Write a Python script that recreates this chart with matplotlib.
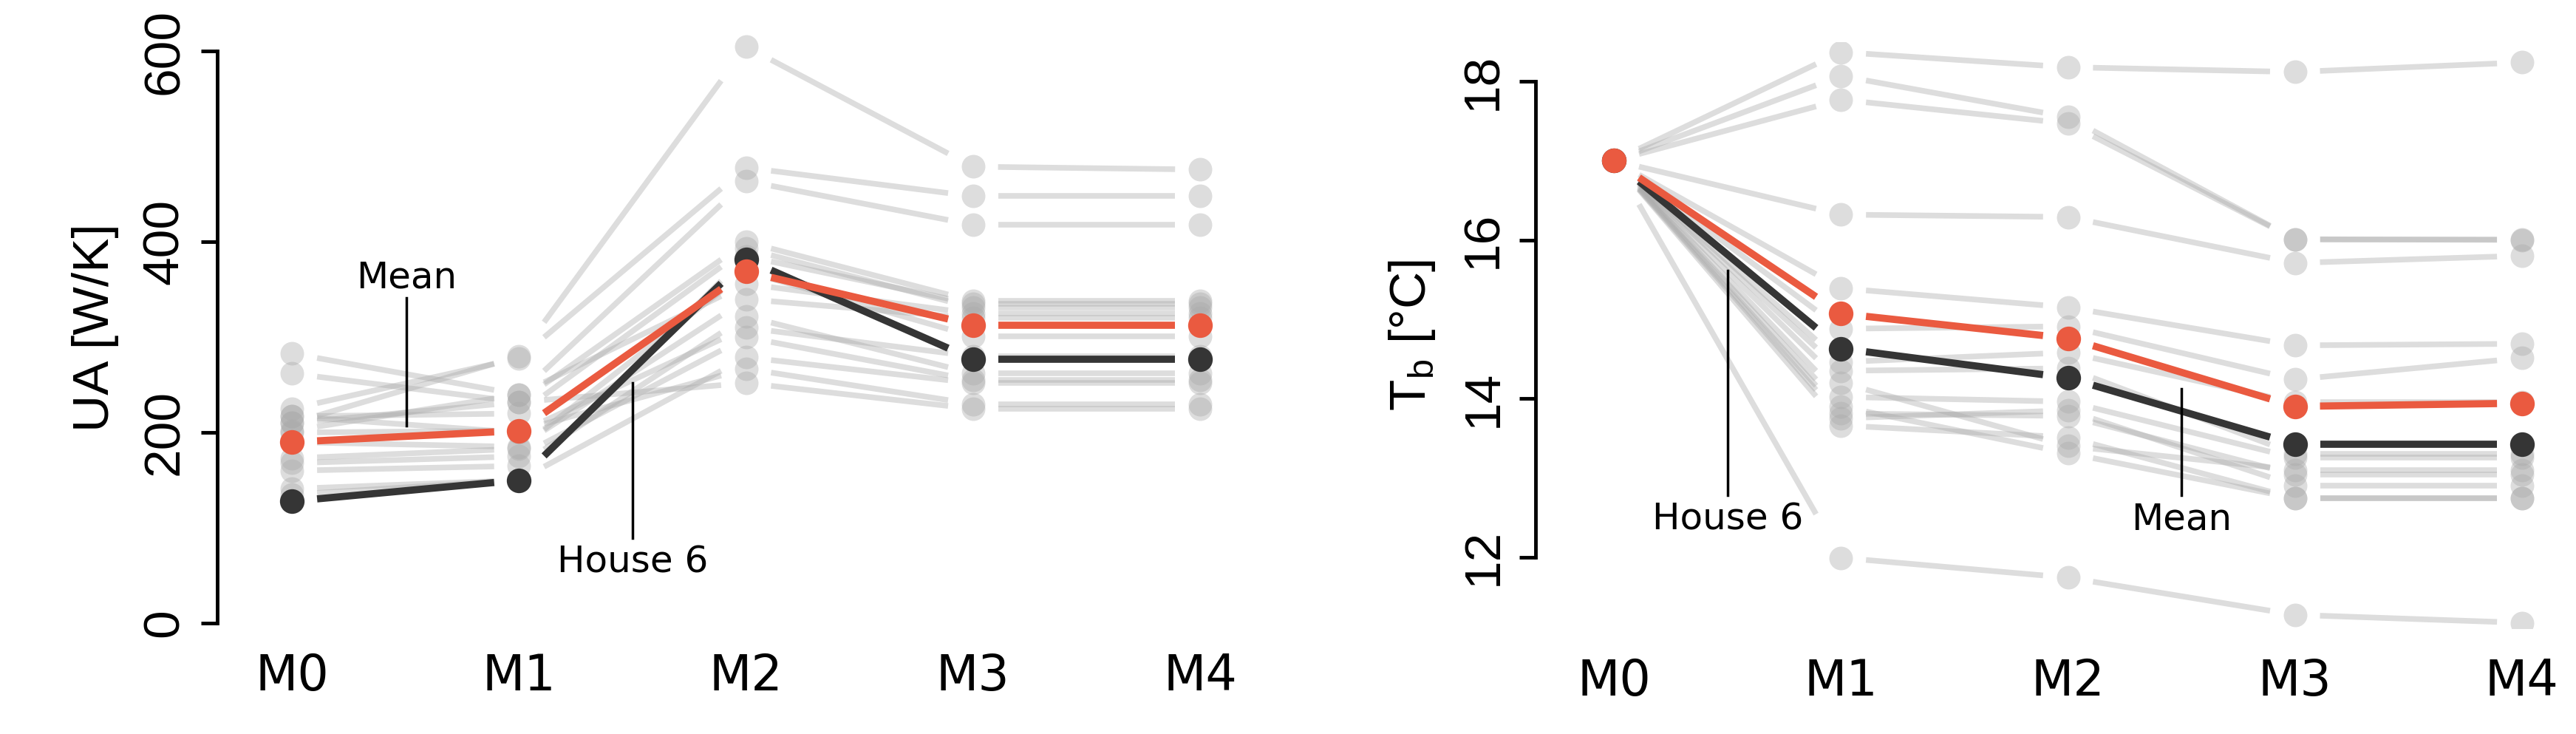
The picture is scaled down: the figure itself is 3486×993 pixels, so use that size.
import numpy as np
import matplotlib.pyplot as plt

steps = ['M0', 'M1', 'M2', 'M3', 'M4']

# UA [W/K] per house, steps M0..M4
ua_houses = [
    [210, 280, 605, 479, 476],
    [225, 278, 478, 448, 448],
    [283, 240, 464, 418, 418],
    [262, 232, 400, 338, 338],
    [217, 220, 393, 331, 331],
    [202, 240, 356, 325, 325],
    [173, 183, 369, 301, 301],
    [160, 165, 322, 262, 262],
    [141, 150, 279, 252, 252],
    [200, 202, 267, 230, 230],
    [210, 232, 252, 225, 225],
    [190, 185, 340, 320, 320],
    [135, 150, 385, 335, 335],
    [217, 200, 310, 280, 280],
    [168, 175, 300, 255, 255],
]
ua_house6 = [128, 150, 382, 277, 277]
ua_mean = [190, 202, 369, 313, 313]

# balance temperature Tb [C]
tb_houses = [
    [17.0, 18.37, 18.18, 18.12, 18.24],
    [17.0, 18.07, 17.55, 16.01, 16.01],
    [17.0, 17.77, 17.47, 16.01, 16.00],
    [17.0, 16.32, 16.29, 15.71, 15.80],
    [17.0, 15.39, 15.15, 14.67, 14.69],
    [17.0, 14.88, 14.91, 14.24, 14.51],
    [17.0, 14.46, 14.58, 13.95, 13.95],
    [17.0, 14.35, 14.38, 13.30, 13.30],
    [17.0, 14.02, 13.96, 13.25, 13.25],
    [17.0, 13.81, 13.78, 13.04, 13.04],
    [17.0, 13.66, 13.51, 12.74, 12.74],
    [17.0, 14.20, 13.40, 13.10, 13.10],
    [17.0, 13.90, 13.31, 12.74, 12.74],
    [17.0, 13.75, 13.85, 12.90, 12.90],
    [17.0, 11.99, 11.74, 11.27, 11.17],
]
tb_house6 = [17.0, 14.63, 14.26, 13.42, 13.42]
tb_mean = [17.0, 15.07, 14.76, 13.90, 13.94]

red = '#ea5a40'
dark = '#353535'
narrow = ['Liberation Sans Narrow', 'DejaVu Sans']
plt.rcParams['font.family'] = ['Liberation Sans', 'DejaVu Sans']


def series(ax, y, color, alpha, lw, ms, z, gap=0.11):
    y = np.asarray(y, float)
    x = np.arange(len(y))
    for i in range(len(y) - 1):
        x0, x1 = x[i] + gap, x[i + 1] - gap
        y0 = y[i] + (y[i + 1] - y[i]) * gap
        y1 = y[i + 1] - (y[i + 1] - y[i]) * gap
        ax.plot([x0, x1], [y0, y1], color=color, alpha=alpha, lw=lw,
                solid_capstyle='butt', zorder=z)
    ax.plot(x, y, 'o', color=color, alpha=alpha, ms=ms, mew=0, zorder=z + 1)


def panel(ax, houses, h6, mean, spine_x, ylim, yb, yticks, ylabel):
    for h in houses:
        series(ax, h, '#aaaaaa', 0.4, 5.5, 23, 1)
    series(ax, h6, dark, 1, 7, 24, 3)
    series(ax, mean, red, 1, 7, 24, 5)
    ax.set_xlim(spine_x, spine_x + 4.45)
    ax.set_ylim(*ylim)
    for s in ['top', 'right', 'bottom']:
        ax.spines[s].set_visible(False)
    ax.spines['left'].set_position(('data', spine_x))
    ax.spines['left'].set_bounds(*yb)
    ax.spines['left'].set_linewidth(3.5)
    ax.set_yticks(yticks)
    ax.set_yticklabels([str(t) for t in yticks], rotation=90, va='center',
                       fontsize=50)
    ax.tick_params(axis='y', length=16, width=3.5, pad=12)
    ax.set_xticks(range(5))
    ax.set_xticklabels(steps, fontsize=48, family=narrow)
    ax.tick_params(axis='x', length=0, pad=28)
    ax.set_ylabel(ylabel, fontsize=50, labelpad=22)


def label(ax, x, ytxt, yl0, yl1, txt):
    ax.plot([x, x], [yl0, yl1], color='black', lw=2.5, zorder=6)
    ax.text(x, ytxt, txt, ha='center', va='center', fontsize=36,
            family=narrow, zorder=6)


fig = plt.figure(figsize=(34.87, 9.93), dpi=100)
ax1 = fig.add_axes([0.0843, 0.151, 0.392, 0.805])
ax2 = fig.add_axes([0.596, 0.144, 0.392, 0.799])

panel(ax1, ua_houses, ua_house6, ua_mean, -0.33, (0, 620), (0, 600),
      [0, 200, 400, 600], 'UA [W/K]')
label(ax1, 0.505, 363, 341, 207, 'Mean')
label(ax1, 1.5, 64, 89, 252, 'House 6')

panel(ax2, tb_houses, tb_house6, tb_mean, -0.345, (11.1, 18.5), (12, 18),
      [12, 14, 16, 18], 'T$_\\mathregular{b}$ [°C]')
label(ax2, 0.5, 12.48, 12.78, 15.61, 'House 6')
label(ax2, 2.5, 12.48, 12.78, 14.12, 'Mean')

fig.savefig('out.png', dpi=100)
